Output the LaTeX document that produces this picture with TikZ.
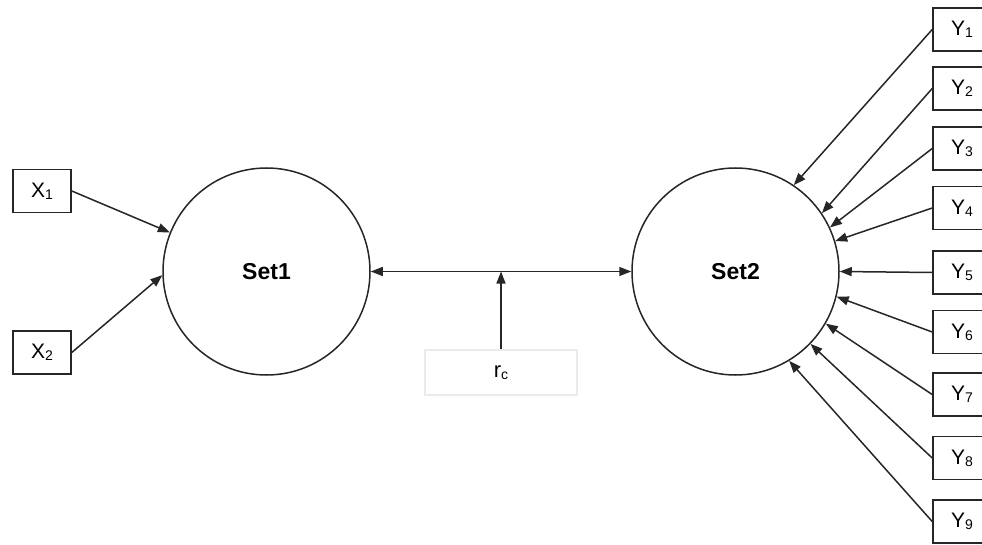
\documentclass[tikz,border=0pt]{standalone}
\usepackage{fontspec}
\setmainfont{Liberation Sans}
\usetikzlibrary{arrows.meta}
\newcommand\lowsub[1]{\raisebox{-2pt}{\fontsize{14}{14}\selectfont #1}}
\begin{document}
\begin{tikzpicture}[x=1pt,y=-1pt,
  tip/.tip={Triangle[length=12pt,width=9pt]},
  conn/.style={line width=1.5pt, draw=black!85, -tip},
  setnode/.style={circle, draw=black!85, line width=1.5pt, minimum size=207pt, inner sep=0pt, font=\fontsize{23}{23}\selectfont\bfseries},
  var/.style={draw=black!85, line width=1.6pt, minimum width=58pt, minimum height=43pt, inner sep=0pt, font=\fontsize{21}{21}\selectfont},
  rcbox/.style={draw=black!8, line width=1.5pt, minimum width=152pt, minimum height=45pt, inner sep=0pt, font=\fontsize{22}{22}\selectfont},
]
\useasboundingbox (0,0) rectangle (982,545);
\clip (0,0) rectangle (982,545);
\node[setnode] (set1) at (266.5,271.5) {Set1};
\node[setnode] (set2) at (735.5,271.5) {Set2};
\node[var] (x1) at (42,191) {X\lowsub{1}};
\node[var] (x2) at (42,352.5) {X\lowsub{2}};
\node[var] (y1) at (962,29.5) {Y\lowsub{1}};
\node[var] (y2) at (962,88.5) {Y\lowsub{2}};
\node[var] (y3) at (962,148.5) {Y\lowsub{3}};
\node[var] (y4) at (962,208) {Y\lowsub{4}};
\node[var] (y5) at (962,272.5) {Y\lowsub{5}};
\node[var] (y6) at (962,332) {Y\lowsub{6}};
\node[var] (y7) at (962,394.5) {Y\lowsub{7}};
\node[var] (y8) at (962,458) {Y\lowsub{8}};
\node[var] (y9) at (962,521.5) {Y\lowsub{9}};
\node[rcbox] (rc) at (501,372.5) {r\lowsub{c}};
\coordinate (mid) at (rc.north |- set1.east);
\draw[conn, tip-tip] (set1.east) -- (set2.west);
\draw[conn] (rc.north) -- (mid);
\draw[conn] (x1.east) -- (set1.158);
\draw[conn] (x2.east) -- (set1.182);
\draw[conn] (y1.west) -- (set2.56);
\draw[conn] (y2.west) -- (set2.34);
\draw[conn] (y3.west) -- (set2.25);
\draw[conn] (y4.west) -- (set2.17);
\draw[conn] (y5.west) -- (set2.0);
\draw[conn] (y6.west) -- (set2.346);
\draw[conn] (y7.west) -- (set2.330);
\draw[conn] (y8.west) -- (set2.316);
\draw[conn] (y9.west) -- (set2.301);
\end{tikzpicture}
\end{document}
